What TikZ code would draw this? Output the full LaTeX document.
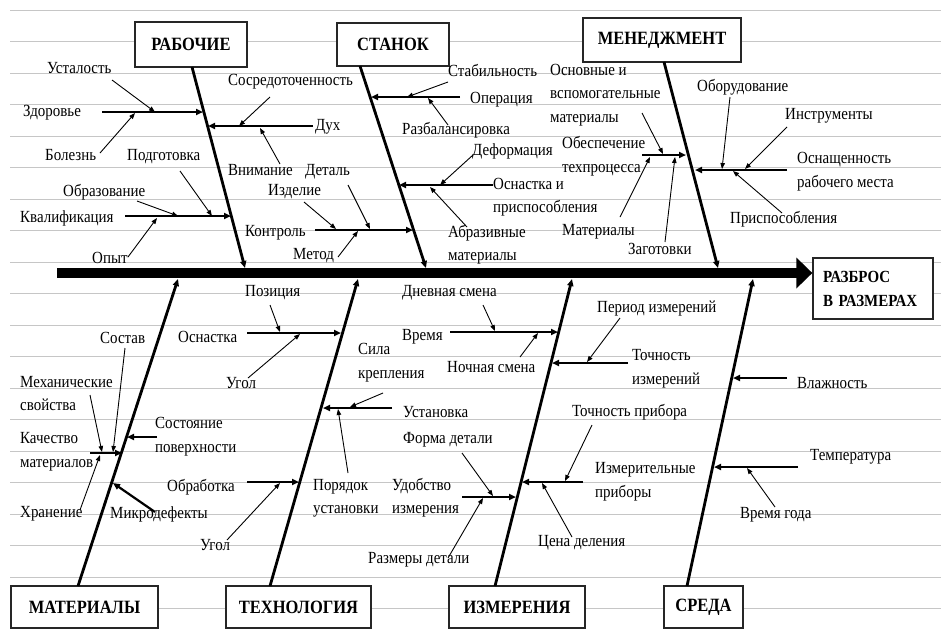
\documentclass[tikz,border=0pt]{standalone}
\usepackage{fontspec}
\setmainfont{Liberation Serif}[FakeStretch=0.88]
\usetikzlibrary{arrows.meta}
\tikzset{
 lbl/.style={anchor=west, inner sep=0pt, align=left, font=\fontsize{17}{23.5}\selectfont},
 catbox/.style={draw=black!85, line width=1.3pt, font=\bfseries\fontsize{18.75}{22}\selectfont, inner sep=0pt, fill=white},
 bone/.style={line width=2.8pt, -{Triangle[length=7pt,width=6pt]}},
 subbone/.style={line width=2.2pt, -{Triangle[length=7pt,width=6pt]}},
 thinarr/.style={line width=0.9pt, -{Triangle[length=6pt,width=4.5pt]}},
 gridln/.style={gray!45, line width=0.8pt}
}
\newcommand{\fbthin}[3]{\coordinate (#1a) at #2; \coordinate (#1b) at #3; \draw[thinarr] (#1a) -- (#1b);}
\newcommand{\fbsub}[3]{\coordinate (#1a) at #2; \coordinate (#1b) at #3; \draw[subbone] (#1a) -- (#1b);}
\begin{document}
\begin{tikzpicture}[x=1pt,y=-1pt]
\useasboundingbox (0,0) rectangle (941,633);
\fill[white] (0,0) rectangle (941,633);
% background grid
\foreach \k in {0,...,19} {\draw[gridln] (10,{10+31.5*\k}) -- (941,{10+31.5*\k});}

% effect and categories
\node[draw=black!85, line width=1.3pt, fill=white, text width=100pt, inner xsep=10pt, inner ysep=0pt, minimum height=61pt, align=left, font=\bfseries\fontsize{17}{24}\selectfont] (effect) at (873,288.5) {РАЗБРОС\\В РАЗМЕРАХ};
\node[catbox, minimum width=112pt, minimum height=45pt] (rab) at (191,44.5) {РАБОЧИЕ};
\node[catbox, minimum width=112pt, minimum height=43pt] (stan) at (393,44.5) {СТАНОК};
\node[catbox, minimum width=158pt, minimum height=44pt] (men) at (662,40) {МЕНЕДЖМЕНТ};
\node[catbox, minimum width=147pt, minimum height=42pt] (mat) at (84.5,607) {МАТЕРИАЛЫ};
\node[catbox, minimum width=145pt, minimum height=42pt] (tech) at (298.5,607) {ТЕХНОЛОГИЯ};
\node[catbox, minimum width=136pt, minimum height=42pt] (izm) at (517,607) {ИЗМЕРЕНИЯ};
\node[catbox, minimum width=79pt, minimum height=42pt] (sred) at (703.5,607) {СРЕДА};

% spine
\coordinate (sp0) at (57,273);
\coordinate (sp1) at (effect.west |- sp0);
\draw[line width=10pt, -{Triangle[length=16pt,width=30pt]}] (sp0) -- (sp1);

% main bones
\coordinate (b1a) at (192,67);  \coordinate (b1b) at (245,268);
\coordinate (b2a) at (360,66);  \coordinate (b2b) at (426,268);
\coordinate (b3a) at (664,62);  \coordinate (b3b) at (718,268);
\coordinate (b4a) at (78,586);  \coordinate (b4b) at (178,279);
\coordinate (b5a) at (270,586); \coordinate (b5b) at (358,279);
\coordinate (b6a) at (495,586); \coordinate (b6b) at (572,279);
\coordinate (b7a) at (687,586); \coordinate (b7b) at (753,279);
\foreach \i in {1,...,7} {\draw[bone] (b\i a) -- (b\i b);}

% labels: РАБОЧИЕ
\node[lbl] (l1) at (47,68) {Усталость};
\node[lbl] (l2) at (23,113) {Здоровье};
\node[lbl] (l3) at (45,155) {Болезнь};
\node[lbl] (l4) at (228,82) {Сосредоточенность};
\node[lbl] (l5) at (315,127) {Дух};
\node[lbl] (l6) at (228,170) {Внимание};
\node[lbl] (l7) at (127,157) {Подготовка};
\node[lbl] (l8) at (63,192) {Образование};
\node[lbl] (l9) at (20,218) {Квалификация};
\node[lbl] (l10) at (92,258) {Опыт};
\node[lbl] (l11) at (268,192) {Изделие};
\node[lbl] (l12) at (305,172) {Деталь};
\node[lbl] (l13) at (245,233) {Контроль};
\node[lbl] (l14) at (293,256) {Метод};
% СТАНОК
\node[lbl] (l15) at (448,70) {Стабильность};
\node[lbl] (l16) at (470,100) {Операция};
\node[lbl] (l17) at (402,130) {Разбалансировка};
\node[lbl] (l18) at (472,151) {Деформация};
\node[lbl] (l19) at (493,197) {Оснастка и\\приспособления};
\node[lbl] (l20) at (448,244.5) {Абразивные\\материалы};
% МЕНЕДЖМЕНТ
\node[lbl] (l21) at (550,95) {Основные и\\вспомогательные\\материалы};
\node[lbl] (l22) at (562,156) {Обеспечение\\техпроцесса};
\node[lbl] (l23) at (562,232) {Материалы};
\node[lbl] (l24) at (628,249) {Заготовки};
\node[lbl] (l25) at (697,87) {Оборудование};
\node[lbl] (l26) at (785,116) {Инструменты};
\node[lbl] (l27) at (797,171.5) {Оснащенность\\рабочего места};
\node[lbl] (l28) at (730,219) {Приспособления};
% МАТЕРИАЛЫ
\node[lbl] (l29) at (100,338) {Состав};
\node[lbl] (l30) at (20,393.5) {Механические\\свойства};
\node[lbl] (l31) at (20,451.5) {Качество\\материалов};
\node[lbl] (l32) at (155,436.5) {Состояние\\поверхности};
\node[lbl] (l33) at (20,514) {Хранение};
\node[lbl] (l34) at (110,514) {Микродефекты};
% ТЕХНОЛОГИЯ
\node[lbl] (l35) at (245,293) {Позиция};
\node[lbl] (l36) at (178,337) {Оснастка};
\node[lbl] (l37) at (226,383) {Угол};
\node[lbl] (l38) at (358,362.5) {Сила\\крепления};
\node[lbl] (l39) at (403,412) {Установка};
\node[lbl] (l40) at (167,487) {Обработка};
\node[lbl] (l41) at (313,498.5) {Порядок\\установки};
\node[lbl] (l42) at (200,545) {Угол};
% ИЗМЕРЕНИЯ
\node[lbl] (l43) at (402,293) {Дневная смена};
\node[lbl] (l44) at (402,337) {Время};
\node[lbl] (l45) at (447,367) {Ночная смена};
\node[lbl] (l46) at (597,308) {Период измерений};
\node[lbl] (l47) at (632,368.5) {Точность\\измерений};
\node[lbl] (l48) at (572,412) {Точность прибора};
\node[lbl] (l49) at (403,440) {Форма детали};
\node[lbl] (l50) at (392,497.5) {Удобство\\измерения};
\node[lbl] (l51) at (595,481.5) {Измерительные\\приборы};
\node[lbl] (l52) at (368,560) {Размеры детали};
\node[lbl] (l53) at (538,543) {Цена деления};
% СРЕДА
\node[lbl] (l54) at (797,383) {Влажность};
\node[lbl] (l55) at (810,457) {Температура};
\node[lbl] (l56) at (740,515) {Время года};

% sub-bones
\fbsub{s1}{(102,112)}{(203,112)}
\fbsub{s2}{(313,126)}{(208,126)}
\fbsub{s3}{(125,216)}{(231,216)}
\fbsub{s4}{(315,230)}{(413,230)}
\fbsub{s5}{(460,97)}{(371,97)}
\fbsub{s6}{(493,185)}{(399,185)}
\fbsub{s7}{(642,155)}{(686,155)}
\fbsub{s8}{(787,170)}{(695,170)}
\fbsub{s9}{(90,453)}{(122,453)}
\fbsub{s10}{(157,437)}{(127,437)}
\fbsub{s11}{(155,512)}{(113,483)}
\fbsub{s12}{(247,333)}{(341,333)}
\fbsub{s13}{(392,408)}{(323,408)}
\fbsub{s14}{(247,482)}{(299,482)}
\fbsub{s15}{(450,332)}{(558,332)}
\fbsub{s16}{(628,363)}{(552,363)}
\fbsub{s17}{(462,497)}{(516,497)}
\fbsub{s18}{(583,482)}{(522,482)}
\fbsub{s19}{(787,378)}{(733,378)}
\fbsub{s20}{(798,467)}{(714,467)}

% thin cause arrows
\fbthin{a1}{(112,80)}{(155,112)}
\fbthin{a2}{(100,153)}{(135,113)}
\fbthin{a3}{(270,97)}{(239,126)}
\fbthin{a4}{(280,164)}{(260,128)}
\fbthin{a5}{(137,201)}{(178,216)}
\fbthin{a6}{(180,171)}{(212,216)}
\fbthin{a7}{(128,257)}{(157,218)}
\fbthin{a8}{(304,202)}{(336,229)}
\fbthin{a9}{(348,185)}{(370,229)}
\fbthin{a10}{(338,257)}{(358,231)}
\fbthin{a11}{(448,82)}{(407,97)}
\fbthin{a12}{(448,125)}{(428,98)}
\fbthin{a13}{(473,155)}{(440,185)}
\fbthin{a14}{(467,227)}{(430,187)}
\fbthin{a15}{(642,113)}{(663,154)}
\fbthin{a16}{(620,217)}{(650,157)}
\fbthin{a17}{(665,242)}{(675,157)}
\fbthin{a18}{(730,97)}{(722,169)}
\fbthin{a19}{(787,127)}{(745,169)}
\fbthin{a20}{(782,213)}{(733,171)}
\fbthin{a21}{(90,395)}{(102,452)}
\fbthin{a22}{(125,348)}{(113,452)}
\fbthin{a23}{(80,510)}{(100,455)}
\fbthin{a24}{(270,305)}{(280,332)}
\fbthin{a25}{(248,378)}{(300,334)}
\fbthin{a26}{(383,393)}{(350,407)}
\fbthin{a27}{(348,473)}{(338,409)}
\fbthin{a28}{(227,540)}{(280,483)}
\fbthin{a29}{(483,305)}{(495,331)}
\fbthin{a30}{(520,357)}{(538,333)}
\fbthin{a31}{(620,318)}{(587,362)}
\fbthin{a32}{(462,453)}{(493,496)}
\fbthin{a33}{(448,558)}{(483,498)}
\fbthin{a34}{(592,425)}{(565,481)}
\fbthin{a35}{(572,537)}{(542,483)}
\fbthin{a36}{(775,507)}{(747,468)}
\end{tikzpicture}
\end{document}
